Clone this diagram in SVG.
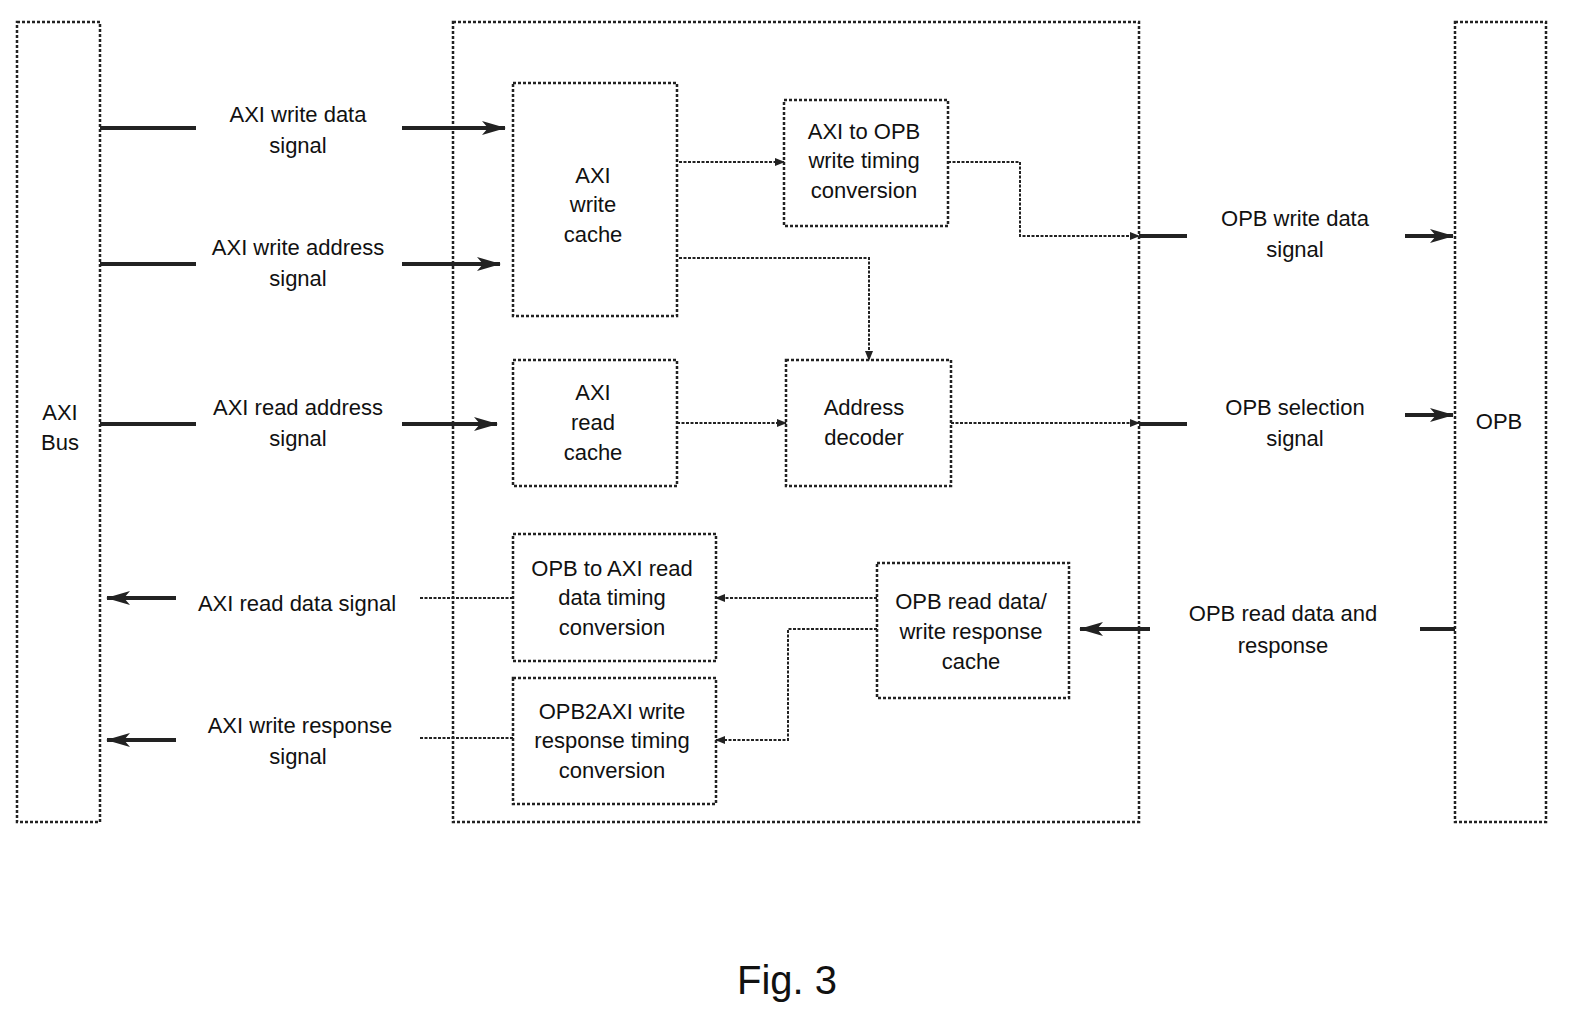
<svg xmlns="http://www.w3.org/2000/svg" width="1575" height="1020" viewBox="0 0 1575 1020">
<style>
.b{fill:none;stroke:#222;stroke-width:2.5;stroke-dasharray:3 2}
.t{font-family:"Liberation Sans",Arial,sans-serif;font-size:22px;fill:#111;text-anchor:middle}
.th{fill:none;stroke:#222;stroke-width:4}
.tn{fill:none;stroke:#222;stroke-width:2;stroke-dasharray:3 1.5}
</style>
<defs>
<marker id="a" markerWidth="10" markerHeight="10" refX="9" refY="5" orient="auto" markerUnits="userSpaceOnUse" viewBox="0 0 10 10"><path d="M0,1 L10,5 L0,9 z" fill="#222"/></marker>
<marker id="A" markerWidth="24" markerHeight="16" refX="23" refY="8" orient="auto" markerUnits="userSpaceOnUse" viewBox="0 0 24 16"><path d="M0,1 L24,8 L0,15 L6,8 z" fill="#222"/></marker>
</defs>
<rect width="1575" height="1020" fill="#fff"/>
<g id="axibus"><rect class="b" x="17" y="22" width="83" height="800"/><text class="t" x="60" y="420">AXI</text><text class="t" x="60" y="450">Bus</text></g>
<g id="bridge"><rect class="b" x="453" y="22" width="686" height="800"/></g>
<g id="opb"><rect class="b" x="1455" y="22" width="91" height="800"/><text class="t" x="1499" y="429">OPB</text></g>
<g id="wcache"><rect class="b" x="513" y="83" width="164" height="233"/><text class="t" x="593" y="183">AXI</text><text class="t" x="593" y="212">write</text><text class="t" x="593" y="242">cache</text></g>
<g id="wconv"><rect class="b" x="784" y="100" width="164" height="126"/><text class="t" x="864" y="139">AXI to OPB</text><text class="t" x="864" y="168">write timing</text><text class="t" x="864" y="198">conversion</text></g>
<g id="rcache"><rect class="b" x="513" y="360" width="164" height="126"/><text class="t" x="593" y="400">AXI</text><text class="t" x="593" y="430">read</text><text class="t" x="593" y="460">cache</text></g>
<g id="decoder"><rect class="b" x="786" y="360" width="165" height="126"/><text class="t" x="864" y="415">Address</text><text class="t" x="864" y="445">decoder</text></g>
<g id="rconv"><rect class="b" x="513" y="534" width="203" height="127"/><text class="t" x="612" y="576">OPB to AXI read</text><text class="t" x="612" y="605">data timing</text><text class="t" x="612" y="635">conversion</text></g>
<g id="wrconv"><rect class="b" x="513" y="678" width="203" height="126"/><text class="t" x="612" y="719">OPB2AXI write</text><text class="t" x="612" y="748">response timing</text><text class="t" x="612" y="778">conversion</text></g>
<g id="rdcache"><rect class="b" x="877" y="563" width="192" height="135"/><text class="t" x="971" y="609">OPB read data/</text><text class="t" x="971" y="639">write response</text><text class="t" x="971" y="669">cache</text></g>
<g id="labels">
<text class="t" x="298" y="122">AXI write data</text><text class="t" x="298" y="153">signal</text>
<text class="t" x="298" y="255">AXI write address</text><text class="t" x="298" y="286">signal</text>
<text class="t" x="298" y="415">AXI read address</text><text class="t" x="298" y="446">signal</text>
<text class="t" x="297" y="611">AXI read data signal</text>
<text class="t" x="300" y="733">AXI write response</text><text class="t" x="298" y="764">signal</text>
<text class="t" x="1295" y="226">OPB write data</text><text class="t" x="1295" y="257">signal</text>
<text class="t" x="1295" y="415">OPB selection</text><text class="t" x="1295" y="446">signal</text>
<text class="t" x="1283" y="621">OPB read data and</text><text class="t" x="1283" y="653">response</text>
<text x="787" y="994" font-family="Liberation Sans,Arial,sans-serif" font-size="40" text-anchor="middle" fill="#111">Fig. 3</text>
</g>
<g id="connectors">
<path class="th" d="M100,128H196M100,264H196M100,424H196"/>
<path class="th" d="M402,128H505" marker-end="url(#A)"/>
<path class="th" d="M402,264H500" marker-end="url(#A)"/>
<path class="th" d="M402,424H497" marker-end="url(#A)"/>
<path class="th" d="M176,598H107" marker-end="url(#A)"/>
<path class="th" d="M176,740H107" marker-end="url(#A)"/>
<path class="tn" d="M420,598H513M420,738H513"/>
<path class="tn" d="M679,162H784" marker-end="url(#a)"/>
<path class="tn" d="M948,162H1020V236H1139" marker-end="url(#a)"/>
<path class="th" d="M1139,236H1187M1139,424H1187M1420,629H1455"/>
<path class="th" d="M1405,236H1453" marker-end="url(#A)"/>
<path class="th" d="M1405,415H1453" marker-end="url(#A)"/>
<path class="tn" d="M679,258H869V360" marker-end="url(#a)"/>
<path class="tn" d="M677,423H786" marker-end="url(#a)"/>
<path class="tn" d="M951,423H1139" marker-end="url(#a)"/>
<path class="th" d="M1150,629H1080" marker-end="url(#A)"/>
<path class="tn" d="M877,598H716" marker-end="url(#a)"/>
<path class="tn" d="M877,629H788V740H716" marker-end="url(#a)"/>
</g>
</svg>
